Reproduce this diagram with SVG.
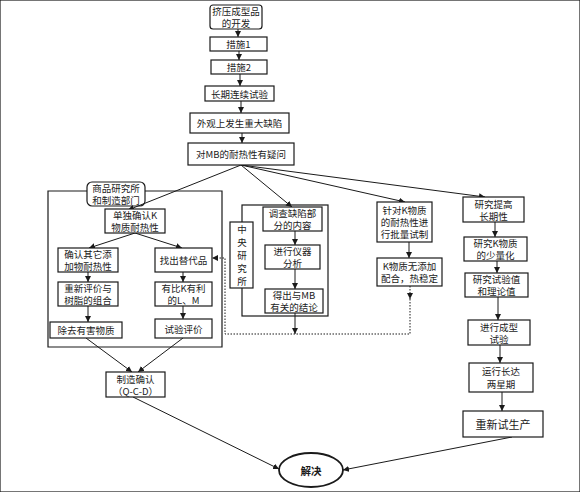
<svg xmlns="http://www.w3.org/2000/svg" width="580" height="492" viewBox="0 0 580 492">
<defs>
<marker id="ah" viewBox="0 0 10 10" refX="10" refY="5" markerWidth="6" markerHeight="6" markerUnits="userSpaceOnUse" orient="auto">
<path d="M0,0 L10,5 L0,10 z" fill="#1a1a1a"/>
</marker>
<style>
rect, ellipse, .frame { fill: #fff; stroke: #1a1a1a; stroke-width: 1.2; }
ellipse { stroke-width: 1.8; }
.frame { fill: none; }
text { font-family: "Noto Sans CJK SC", "Liberation Serif", serif; font-size: 9.5px; fill: #1a1a1a; text-anchor: middle; dominant-baseline: central; }
.c line, .c path { stroke: #1a1a1a; stroke-width: 1; fill: none; }
.c .arr { marker-end: url(#ah); }
.c .dot { stroke-dasharray: 1.5 1.5; }
</style>
</defs>
<rect x="0" y="0" width="580" height="492" fill="#fff" stroke="none"/>

<g id="frame-left">
<path class="frame" d="M87,191 H48 V347 H222 V191 H145"/>
<rect x="87" y="182" width="58" height="24" rx="5"/>
<text x="116" y="188">商品研究所<tspan x="116" dy="12">和制造部门</tspan></text>
</g>
<g id="frame-center">
<rect class="frame" x="242" y="205" width="86" height="111"/>
<rect x="230" y="222" width="23" height="66"/>
<text x="242" y="229">中<tspan x="242" dy="13">央</tspan><tspan x="242" dy="13">研</tspan><tspan x="242" dy="13">究</tspan><tspan x="242" dy="13">所</tspan></text>
</g>

<g class="c" id="connectors">
<line class="arr" x1="238" y1="29" x2="238" y2="37"/>
<line class="arr" x1="239" y1="51" x2="239" y2="60"/>
<line class="arr" x1="240" y1="74" x2="240" y2="86"/>
<line class="arr" x1="241" y1="101" x2="241" y2="113"/>
<line class="arr" x1="242" y1="133" x2="242" y2="143"/>
<line class="arr" x1="241" y1="165" x2="128" y2="210"/>
<line class="arr" x1="241" y1="165" x2="292" y2="207"/>
<line class="arr" x1="241" y1="165" x2="405" y2="202"/>
<line class="arr" x1="241" y1="165" x2="485" y2="197"/>
<line class="arr" x1="135" y1="233" x2="89" y2="248"/>
<line class="arr" x1="135" y1="233" x2="182" y2="248"/>
<line class="arr" x1="88" y1="272" x2="88" y2="282"/>
<line class="arr" x1="88" y1="306" x2="88" y2="322"/>
<line class="arr" x1="183" y1="272" x2="183" y2="282"/>
<line class="arr" x1="183" y1="306" x2="183" y2="319"/>
<line class="arr" x1="86" y1="338" x2="132" y2="372"/>
<line class="arr" x1="183" y1="338" x2="138" y2="372"/>
<line class="arr" x1="133" y1="397" x2="279" y2="469"/>
<line class="arr" x1="512" y1="437" x2="343" y2="470"/>
<line class="arr" x1="295" y1="231" x2="295" y2="245"/>
<line class="arr" x1="295" y1="269" x2="295" y2="289"/>
<line class="arr" x1="295" y1="313" x2="295" y2="334"/>
<line class="arr" x1="409" y1="242" x2="409" y2="258"/>
<path class="dot arr" d="M410,286 V299"/>
<path class="dot arr" d="M410,299 V334 H225 V258 H212"/>
<line class="arr" x1="495" y1="222" x2="495" y2="237"/>
<line class="arr" x1="497" y1="261" x2="497" y2="273"/>
<line class="arr" x1="498" y1="297" x2="498" y2="320"/>
<line class="arr" x1="500" y1="345" x2="500" y2="363"/>
<line class="arr" x1="502" y1="392" x2="502" y2="411"/>
</g>

<g id="n1"><rect x="210" y="5" width="52" height="24" rx="3"/><text x="236" y="11">挤压成型品<tspan x="236" dy="12">的开发</tspan></text></g>
<g id="n2"><rect x="210" y="37" width="57" height="14"/><text x="238.5" y="44">措施1</text></g>
<g id="n3"><rect x="211" y="60" width="56" height="14"/><text x="239" y="67">措施2</text></g>
<g id="n4"><rect x="205" y="86" width="69" height="15"/><text x="239.5" y="93.5">长期连续试验</text></g>
<g id="n5"><rect x="190" y="113" width="99" height="20"/><text x="239.5" y="123">外观上发生重大缺陷</text></g>
<g id="n6"><rect x="188" y="143" width="106" height="22"/><text x="241" y="154">对MB的耐热性有疑问</text></g>

<g id="n7"><rect x="105" y="209" width="60" height="24"/><text x="135" y="215">单独确认K<tspan x="135" dy="12">物质耐热性</tspan></text></g>
<g id="n8"><rect x="58" y="248" width="60" height="24"/><text x="88" y="254">确认其它添<tspan x="88" dy="12">加物耐热性</tspan></text></g>
<g id="n9"><rect x="155" y="248" width="57" height="24"/><text x="183.5" y="260">找出替代品</text></g>
<g id="n10"><rect x="58" y="282" width="60" height="24"/><text x="88" y="288">重新评价与<tspan x="88" dy="12">树脂的组合</tspan></text></g>
<g id="n11"><rect x="155" y="282" width="57" height="24"/><text x="183.5" y="288">有比K有利<tspan x="183.5" dy="12">的L、M</tspan></text></g>
<g id="n12"><rect x="50" y="322" width="72" height="16"/><text x="86" y="330">除去有害物质</text></g>
<g id="n13"><rect x="155" y="319" width="57" height="19"/><text x="183.5" y="328.5">试验评价</text></g>
<g id="n14"><rect x="106" y="372" width="59" height="25"/><text x="135.5" y="378.5">制造确认<tspan x="135.5" dy="12">（Q-C-D）</tspan></text></g>

<g id="n15"><rect x="263" y="207" width="59" height="24"/><text x="292.5" y="213">调查缺陷部<tspan x="292.5" dy="12">分的内容</tspan></text></g>
<g id="n16"><rect x="265" y="245" width="55" height="24"/><text x="292.5" y="251">进行仪器<tspan x="292.5" dy="12">分析</tspan></text></g>
<g id="n17"><rect x="265" y="289" width="58" height="24"/><text x="294" y="295">得出与MB<tspan x="294" dy="12">有关的结论</tspan></text></g>

<g id="n18"><rect x="377" y="202" width="55" height="40"/><text x="404.5" y="210">针对K物质<tspan x="404.5" dy="12">的耐热性进</tspan><tspan x="404.5" dy="12">行批量试制</tspan></text></g>
<g id="n19"><rect x="377" y="258" width="65" height="28"/><text x="409.5" y="266">K物质无添加<tspan x="409.5" dy="12">配合，热稳定</tspan></text></g>

<g id="n20"><rect x="463" y="197" width="61" height="25"/><text x="493.5" y="203.5">研究提高<tspan x="493.5" dy="12">长期性</tspan></text></g>
<g id="n21"><rect x="464" y="237" width="63" height="24"/><text x="495.5" y="243">研究K物质<tspan x="495.5" dy="12">的少量化</tspan></text></g>
<g id="n22"><rect x="465" y="273" width="63" height="24"/><text x="496.5" y="279">研究试验值<tspan x="496.5" dy="12">和理论值</tspan></text></g>
<g id="n23"><rect x="468" y="320" width="62" height="25"/><text x="499" y="326.5">进行成型<tspan x="499" dy="12">试验</tspan></text></g>
<g id="n24"><rect x="469" y="363" width="64" height="29"/><text x="501" y="371">运行长达<tspan x="501" dy="13">两星期</tspan></text></g>
<g id="n25"><rect x="463" y="411" width="80" height="26"/><text x="503" y="424" style="font-size:11px">重新试生产</text></g>
<g id="n26"><ellipse cx="311" cy="470" rx="32" ry="17"/><text x="311" y="470" style="font-weight:bold;font-size:10.5px">解决</text></g>
</svg>
